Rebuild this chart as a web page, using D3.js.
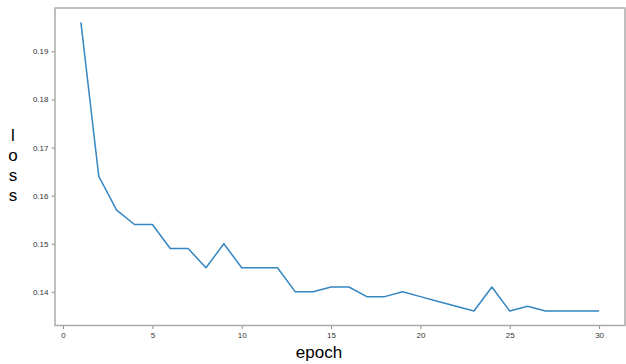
<!DOCTYPE html>
<html lang="en">
<head>
<meta charset="UTF-8">
<title>loss</title>
<script src="https://d3js.org/d3.v7.min.js"></script>
<style>
  body { margin: 0; background: #fff; }
  svg { display: block; }
  .tick text { font-family: "Liberation Sans", Arial, sans-serif; font-size: 8px; fill: #333; }
  .tick line { stroke: #888; }
  .domain { display: none; }
</style>
</head>
<body>
<div id="chart"></div>
<script>
// loss per epoch
const epochs = d3.range(1, 31);
const loss = [0.196, 0.164, 0.157, 0.154, 0.154, 0.149, 0.149, 0.145, 0.150, 0.145,
              0.145, 0.145, 0.140, 0.140, 0.141, 0.141, 0.139, 0.139, 0.140, 0.139,
              0.138, 0.137, 0.136, 0.141, 0.136, 0.137, 0.136, 0.136, 0.136, 0.136];
const xTicks = [0, 5, 10, 15, 20, 25, 30];
const yTicks = [0.14, 0.15, 0.16, 0.17, 0.18, 0.19];

const W = 626, H = 364;
const mLeft = 55, mRight = 625, mTop = 8, mBottom = 325.5;

const svg = d3.select('#chart').append('svg')
    .attr('width', W).attr('height', H);

// matplotlib-style 5% margins
const xPad = (30 - 1) * 0.05;
const yMin = d3.min(loss), yMax = d3.max(loss);
const yPad = (yMax - yMin) * 0.05;

const x = d3.scaleLinear().domain([1 - xPad, 30 + xPad]).range([mLeft, mRight]);
const y = d3.scaleLinear().domain([yMin - yPad, yMax + yPad]).range([mBottom, mTop]);

svg.append('g')
    .attr('transform', `translate(0,${mBottom})`)
    .call(d3.axisBottom(x).tickValues(xTicks).tickSize(3.5).tickPadding(3).tickFormat(d3.format('d')));

svg.append('g')
    .attr('transform', `translate(${mLeft},0)`)
    .call(d3.axisLeft(y).tickValues(yTicks).tickSize(3.5).tickPadding(3).tickFormat(d3.format('.2f')));

// frame
svg.append('rect')
    .attr('x', mLeft).attr('y', mTop)
    .attr('width', mRight - mLeft).attr('height', mBottom - mTop)
    .attr('fill', 'none').attr('stroke', '#aaa').attr('stroke-width', 1.5);

svg.append('path')
    .datum(loss)
    .attr('fill', 'none')
    .attr('stroke', '#3586c1')
    .attr('stroke-width', 1.5)
    .attr('stroke-linejoin', 'round')
    .attr('d', d3.line().x((d, i) => x(epochs[i])).y(d => y(d)));

// labels
svg.append('text')
    .attr('x', 319).attr('y', 358)
    .attr('text-anchor', 'middle')
    .style('font-family', '"Liberation Sans", Arial, sans-serif')
    .style('font-size', '17px')
    .text('epoch');

const yLabel = svg.append('text')
    .attr('text-anchor', 'middle')
    .style('font-family', '"Liberation Sans", Arial, sans-serif')
    .style('font-size', '17px');
['l', 'o', 's', 's'].forEach((c, i) => {
  yLabel.append('tspan').attr('x', 13).attr('y', 141 + i * 20).text(c);
});
</script>
</body>
</html>
